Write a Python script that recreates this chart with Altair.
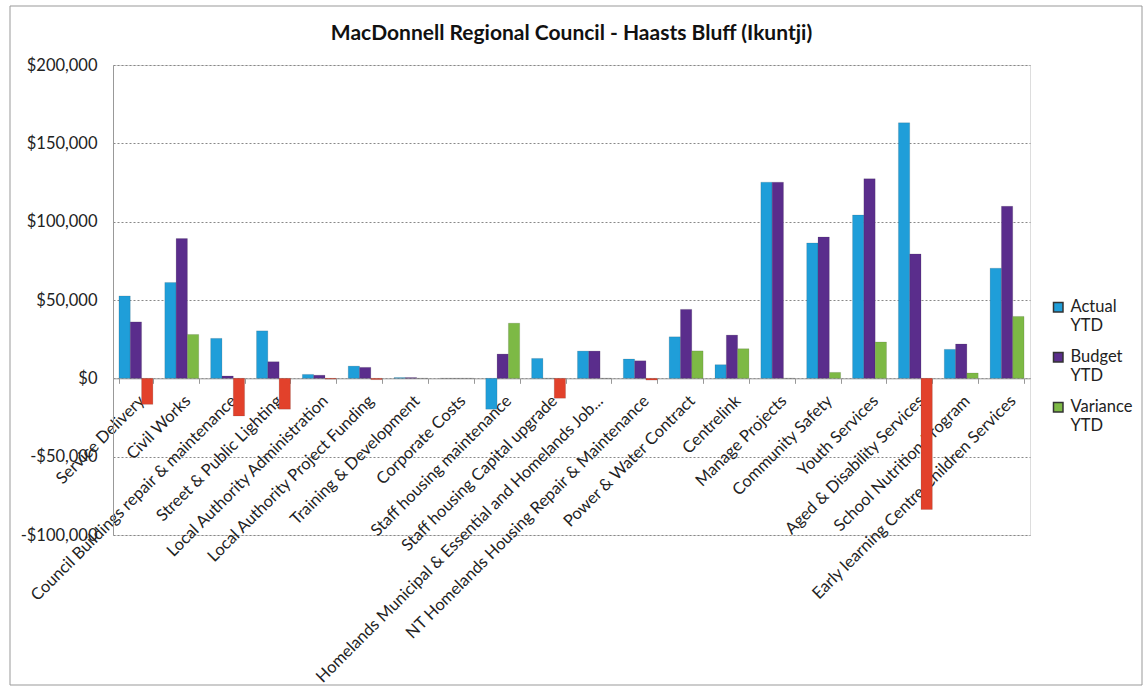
import altair as alt
import pandas as pd

title_text = "MacDonnell Regional Council - Haasts Bluff (Ikuntji)"
categories = [
    "Service Delivery", "Civil Works", "Council Buildings repair & maintenance",
    "Street & Public Lighting", "Local Authority Administration",
    "Local Authority Project Funding", "Training & Development", "Corporate Costs",
    "Staff housing maintenance", "Staff housing Capital upgrade",
    "Homelands Municipal & Essential and Homelands Job...",
    "NT Homelands Housing Repair & Maintenance", "Power & Water Contract",
    "Centrelink", "Manage Projects", "Community Safety", "Youth Services",
    "Aged & Disability Services", "School Nutrition Program",
    "Early learning Centre Children Services",
]
actual = [52600, 61200, 25500, 30300, 2500, 7800, 500, 0, -19700, 12700,
          17400, 12300, 26500, 8700, 125200, 86400, 104200, 163100, 18500, 70300]
budget = [36000, 89200, 1500, 10600, 2000, 7000, 500, 0, 15500, 0,
          17400, 11200, 44000, 27600, 125200, 90200, 127400, 79400, 21900, 109800]
variance = [-16600, 28000, -24000, -19700, -500, -800, 0, 0, 35200, -12700,
            0, -1100, 17500, 18900, 0, 3800, 23200, -83700, 3400, 39500]

series_names = ["Actual YTD", "Budget YTD", "Variance YTD"]
series_colors = ["#1f9ed9", "#5a2d8c", "#7db945"]
negative_color = "#e2412b"

rows = []
for i, c in enumerate(categories):
    for s, vals in zip(series_names, [actual, budget, variance]):
        rows.append({"category": c, "series": s, "value": vals[i], "order": i})
df = pd.DataFrame(rows)

W, H = 917, 470
FONT = "Lato"

bars = alt.Chart(df).mark_bar(strokeWidth=0.6).encode(
    x=alt.X("category:N", sort=categories, title=None,
            scale=alt.Scale(paddingInner=0.26, paddingOuter=0.13),
            axis=alt.Axis(labelAngle=-45, labelFontSize=16.5, labelFont=FONT,
                          labelColor="#222", labelLimit=450, tickBand="extent",
                          tickSize=5, tickColor="#999", domainColor="#999",
                          offset=-(H / 3), labelPadding=9, grid=False)),
    xOffset=alt.XOffset("series:N", sort=series_names),
    y=alt.Y("value:Q", title=None,
            scale=alt.Scale(domain=[-100000, 200000], nice=False),
            axis=alt.Axis(values=[-100000, -50000, 0, 50000, 100000, 150000, 200000],
                          labelExpr="(datum.value < 0 ? '-' : '') + '$' + format(abs(datum.value), ',')",
                          labelFontSize=16.5, labelFont=FONT, labelColor="#222",
                          grid=True, gridColor="#888", gridDash=[2, 2], gridWidth=1,
                          domainColor="#999", ticks=False, labelPadding=16)),
    color=alt.condition(
        "datum.value < 0 && datum.series == 'Variance YTD'",
        alt.value(negative_color),
        alt.Color("series:N", sort=series_names,
                  scale=alt.Scale(domain=series_names, range=series_colors),
                  legend=alt.Legend(title=None, orient="none", legendX=W + 20,
                                    legendY=234, symbolType="square", symbolSize=90,
                                    labelFontSize=16.5, labelFont=FONT, labelColor="#222",
                                    labelExpr="split(datum.label, ' ')",
                                    rowPadding=14, labelOffset=4)),
    ),
    stroke=alt.value("#333"),
    strokeOpacity=alt.value(0.25),
)

one = alt.Data(values=[{"t": title_text}])

border = alt.Chart(one).mark_rect(fill=None, stroke="#999", strokeWidth=1).encode(
    x=alt.value(-103), x2=alt.value(W + 112), y=alt.value(-59), y2=alt.value(H + 150)
)

title = alt.Chart(one).mark_text(
    font=FONT, fontSize=21, fontWeight="bold", color="#111",
    align="center", baseline="alphabetic"
).encode(x=alt.value(W / 2), y=alt.value(-25), text="t:N")

chart = alt.layer(border, bars, title).properties(
    width=W, height=H,
    autosize=alt.AutoSizeParams(type="none"),
    padding={"left": 113, "top": 65, "right": 113, "bottom": 153},
).configure_view(stroke=None).configure(background="white")

chart.save("out.html", embed_options={"renderer": "svg", "actions": False})
